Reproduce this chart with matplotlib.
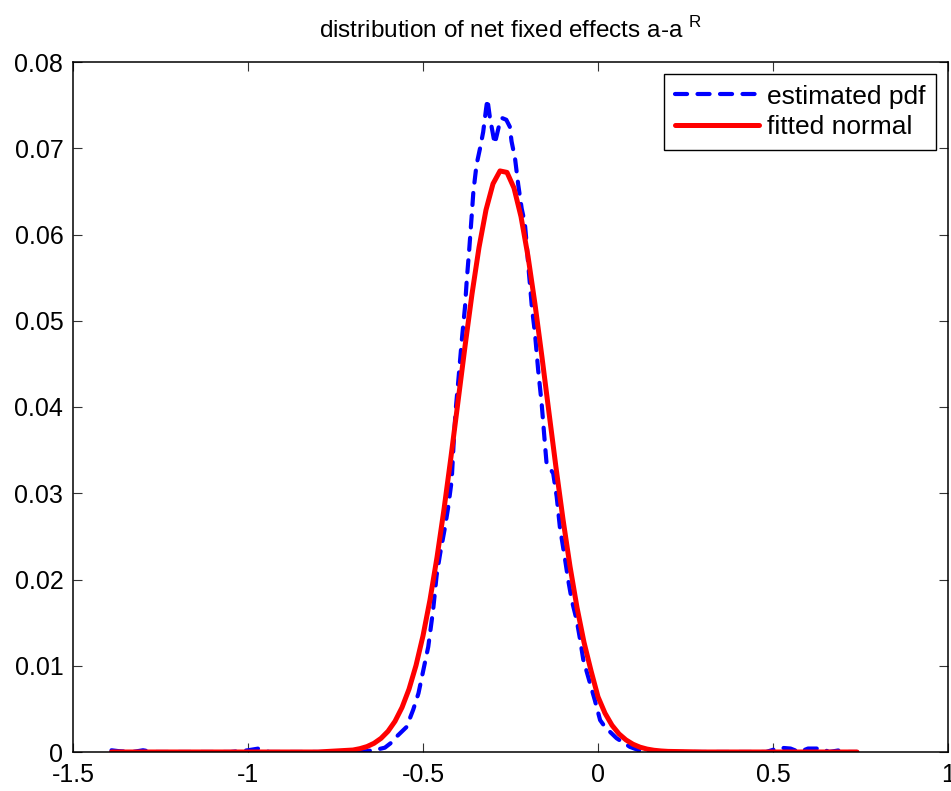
import matplotlib
matplotlib.use("Agg")
import matplotlib.pyplot as plt

plt.rcParams["font.family"] = ["Liberation Sans", "DejaVu Sans"]
plt.rcParams["mathtext.fontset"] = "custom"
plt.rcParams["mathtext.rm"] = "Liberation Sans"
plt.rcParams["axes.unicode_minus"] = False

# estimated pdf (blue dashed)
est_x = [-1.39, -1.37, -1.33, -1.30, -1.27, -1.20, -1.05, -1.00, -0.97, -0.94,
         -0.80, -0.70, -0.66, -0.63, -0.609, -0.59, -0.575, -0.547, -0.528,
         -0.513, -0.499, -0.485, -0.471, -0.461, -0.451, -0.437, -0.428,
         -0.418, -0.413, -0.407, -0.399, -0.389, -0.380, -0.375, -0.368,
         -0.361, -0.356, -0.347, -0.337, -0.328, -0.320, -0.316, -0.309,
         -0.295, -0.280, -0.274, -0.262, -0.252, -0.247, -0.237, -0.228,
         -0.218, -0.209, -0.204, -0.199, -0.194, -0.189, -0.180, -0.171,
         -0.161, -0.151, -0.147, -0.128, -0.118, -0.109, -0.094, -0.085,
         -0.075, -0.061, -0.051, -0.042, -0.023, -0.009, 0.006, 0.020,
         0.053, 0.091, 0.13, 0.30, 0.48, 0.52, 0.55, 0.575, 0.60, 0.64,
         0.66, 0.69, 0.71, 0.74]
est_y = [0.0002, 0.0001, 0.0, 0.0002, 0.0, 0.0, 0.0, 0.0002, 0.0004, 0.0,
         0.0, 0.0, 0.0001, 0.0003, 0.0005, 0.0011, 0.0018, 0.0029, 0.0049,
         0.0068, 0.0095, 0.0122, 0.0165, 0.0205, 0.0230, 0.0261, 0.0284,
         0.0315, 0.0354, 0.0395, 0.0431, 0.0478, 0.0516, 0.0547, 0.0582,
         0.0621, 0.0650, 0.0681, 0.0700, 0.0719, 0.0745, 0.0757, 0.0736,
         0.0705, 0.0731, 0.0735, 0.0733, 0.0725, 0.0708, 0.0688, 0.0658,
         0.0630, 0.0613, 0.0590, 0.0563, 0.0540, 0.0516, 0.0485, 0.0443,
         0.0404, 0.0354, 0.0335, 0.0323, 0.0296, 0.0261, 0.0223, 0.0199,
         0.0176, 0.0153, 0.0130, 0.0107, 0.0080, 0.0060, 0.0037, 0.0029,
         0.0016, 0.0006, 0.0, 0.0, 0.0, 0.0005, 0.0004, 0.0, 0.0004, 0.0004,
         0.0, 0.0002, 0.0, 0.0]

# fitted normal (red)
fit_x = [-1.39, -0.80, -0.70, -0.68, -0.66, -0.64, -0.62, -0.60, -0.58, -0.56,
         -0.54, -0.52, -0.50, -0.48, -0.46, -0.44, -0.42, -0.40, -0.38,
         -0.36, -0.34, -0.32, -0.30, -0.28, -0.26, -0.24, -0.22, -0.20,
         -0.18, -0.16, -0.14, -0.12, -0.10, -0.08, -0.06, -0.04, -0.02,
         0.00, 0.02, 0.04, 0.06, 0.08, 0.10, 0.12, 0.14, 0.16, 0.18, 0.20,
         0.30, 0.74]
fit_y = [0.0, 0.0, 0.00023, 0.00039, 0.00063, 0.00101, 0.00158, 0.00240,
         0.00356, 0.00516, 0.00728, 0.01003, 0.01347, 0.01765, 0.02257,
         0.02814, 0.03423, 0.04062, 0.04702, 0.05310, 0.05849, 0.06285,
         0.06588, 0.06737, 0.06720, 0.06539, 0.06207, 0.05748, 0.05192,
         0.04576, 0.03933, 0.03298, 0.02698, 0.02153, 0.01676, 0.01272,
         0.00943, 0.00640, 0.00450, 0.00310, 0.00210, 0.00140, 0.00090,
         0.00056, 0.00034, 0.00020, 0.00012, 0.00007, 0.0, 0.0]

x_ticks = [-1.5, -1, -0.5, 0, 0.5, 1]
x_labels = ["-1.5", "-1", "-0.5", "0", "0.5", "1"]
y_ticks = [0, 0.01, 0.02, 0.03, 0.04, 0.05, 0.06, 0.07, 0.08]
y_labels = ["0", "0.01", "0.02", "0.03", "0.04", "0.05", "0.06", "0.07", "0.08"]

fig = plt.figure(figsize=(9.51, 7.91), dpi=100)
ax = fig.add_axes([73 / 951, 39 / 791, 875 / 951, 690 / 791])

ax.plot(est_x, est_y, color=(0, 0, 1), lw=3, linestyle=(0, (2.9, 2.5)),
        dash_capstyle="round", label="estimated pdf")
ax.plot(fit_x, fit_y, color=(1, 0, 0), lw=3.6, solid_capstyle="round",
        label="fitted normal")

ax.set_xlim(-1.5, 1)
ax.set_ylim(0, 0.08)
ax.set_xticks(x_ticks)
ax.set_xticklabels(x_labels)
ax.set_yticks(y_ticks)
ax.set_yticklabels(y_labels)
ax.tick_params(direction="in", length=6.5, width=0.8, top=True, right=True,
               labelsize=18, color="#333333")
ax.tick_params(axis="x", pad=8)
ax.tick_params(axis="y", pad=7)
for sp in ax.spines.values():
    sp.set_linewidth(1.1)

ax.set_title("distribution of net fixed effects a-a $^{\\mathrm{R}}$",
             fontsize=17.5, pad=17)

leg = ax.legend(loc="upper right", bbox_to_anchor=(936 / 951, 1 - 74 / 791),
                bbox_transform=fig.transFigure, borderaxespad=0,
                fontsize=19, handlelength=3.2, handletextpad=0.3,
                borderpad=0.4, labelspacing=0.25, fancybox=False,
                framealpha=1, edgecolor="black")
leg.get_frame().set_linewidth(1.0)

fig.savefig("out.png", dpi=100)
